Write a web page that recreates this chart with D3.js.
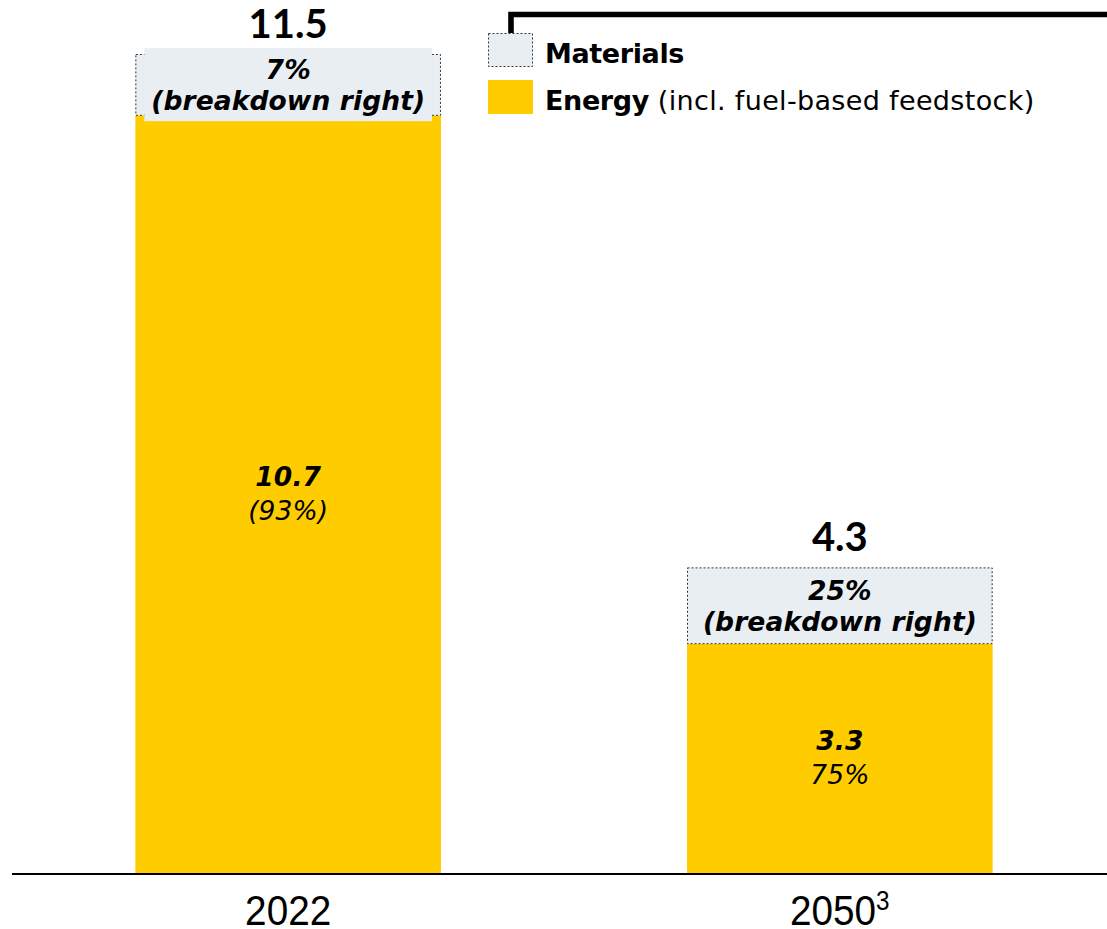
<!DOCTYPE html>
<html><head><meta charset="utf-8">
<script src="https://cdn.jsdelivr.net/npm/d3@7"></script>
<style>body{margin:0;background:#fff}svg{display:block}</style>
</head><body>
<script>
const categories = ["2022", "2050"];
const categorySup = ["", "3"];
const energy = [10.64, 3.23];
const materials = [0.86, 1.07];
const totals = ["11.5", "4.3"];
const materialsLabel = ["7%", "25%"];
const energyShare = ["(93%)", "75%"];
const energyLabel = ["10.7", "3.3"];

const W = 1107, H = 929;
const YELLOW = "#FFCC00", LIGHT = "#E9EEF3";
const svg = d3.select("body").append("svg").attr("width", W).attr("height", H);

const x = d3.scaleBand().domain(categories).range([25, 1103]).paddingInner(0.446).paddingOuter(0.2);
const y = d3.scaleLinear().domain([0, 11.5]).range([874, 54]);
const F = "'DejaVu Sans', sans-serif";
const FT = "Lato, 'DejaVu Sans', sans-serif";

// letter-spacing so that a string at a given size reaches a target width
function fitSpacing(str, weight, style, size, target) {
  const t = svg.append("text").attr("font-family", F).attr("font-weight", weight)
    .attr("font-style", style).attr("font-size", size).text(str);
  const w = t.node().getComputedTextLength();
  t.remove();
  return (target - w) / str.length;
}
const LS = 26.5;
const labelLS = fitSpacing("(breakdown right)", "bold", "italic", LS, 274);
const GS = 27;
const legendLS = fitSpacing("Materials", "bold", "normal", GS, 139);
const suffix = " (incl. fuel-based feedstock)";
const suffixLS = fitSpacing(suffix, "normal", "normal", GS, 377);

function label(sel, xx, yy, str, weight, size, ls) {
  return sel.append("text").attr("x", xx).attr("y", yy).attr("text-anchor", "middle")
    .attr("font-family", F).attr("font-weight", weight).attr("font-style", "italic")
    .attr("font-size", size).attr("letter-spacing", ls).attr("fill", "#000").text(str);
}

const g = svg.append("g");
categories.forEach((c, i) => {
  const x0 = x(c), bw = x.bandwidth(), cx = x0 + bw / 2;
  g.append("rect").attr("x", x0).attr("width", bw)
    .attr("y", y(energy[i])).attr("height", y(0) - y(energy[i])).attr("fill", YELLOW);
  const top = y(energy[i] + materials[i]);
  g.append("rect").attr("x", x0 + 0.5).attr("width", bw - 1)
    .attr("y", top + 0.5).attr("height", y(energy[i]) - top - 0.5)
    .attr("fill", LIGHT).attr("stroke", "#333").attr("stroke-width", 1).attr("stroke-dasharray", "2,2");
  const mMid = (top + y(energy[i])) / 2;
  g.append("rect").attr("x", x0 + 9).attr("width", bw - 18)
    .attr("y", mMid - 36.5).attr("height", 73).attr("fill", LIGHT);
  g.append("text").attr("x", cx).attr("y", top - 16).attr("text-anchor", "middle")
    .attr("font-family", FT).attr("font-weight", "bold").attr("font-size", 40).attr("fill", "#000").text(totals[i]);
  const sh = labelLS / 2; // compensate trailing letter-spacing for centring
  label(g, cx + sh, mMid - 6, materialsLabel[i], "bold", LS, labelLS);
  label(g, cx + sh, mMid + 25, "(breakdown right)", "bold", LS, labelLS);
  const eMid = (y(0) + y(energy[i])) / 2;
  label(g, cx + sh, eMid - 9, energyLabel[i], "bold", LS, labelLS);
  label(g, cx + sh, eMid + 25, energyShare[i], "normal", LS, labelLS);
});

// axis
const axis = svg.append("g").attr("transform", `translate(0,${y(0)})`)
  .call(d3.axisBottom(x).tickSize(0).tickPadding(0).tickFormat(() => ""));
axis.select(".domain").remove();
axis.append("line").attr("x1", 12).attr("x2", W).attr("stroke", "#000").attr("stroke-width", 2);
axis.selectAll(".tick").each(function(d, i) {
  const t = d3.select(this).append("text").attr("y", 51).attr("text-anchor", "middle")
    .attr("transform", "scale(0.9,1)")
    .attr("font-family", "'Liberation Sans', Arial, sans-serif").attr("font-size", 43).attr("fill", "#000");
  t.append("tspan").text(d);
  if (categorySup[i]) t.append("tspan").attr("font-size", 27).attr("dy", -15).text(categorySup[i]);
});

// bracket
svg.append("path").attr("d", `M511,33 V14.5 H${W}`).attr("fill", "none").attr("stroke", "#000").attr("stroke-width", 5.6);

// legend
const lg = svg.append("g");
lg.append("rect").attr("x", 488.5).attr("y", 33.5).attr("width", 44).attr("height", 33)
  .attr("fill", LIGHT).attr("stroke", "#333").attr("stroke-dasharray", "2,2");
lg.append("text").attr("x", 545).attr("y", 63).attr("font-family", F).attr("font-weight", "bold")
  .attr("font-size", GS).attr("letter-spacing", legendLS).text("Materials");
lg.append("rect").attr("x", 488).attr("y", 80).attr("width", 45).attr("height", 34).attr("fill", YELLOW);
const et = lg.append("text").attr("x", 545).attr("y", 110).attr("font-family", F).attr("font-size", GS);
et.append("tspan").attr("font-weight", "bold").attr("letter-spacing", legendLS).text("Energy");
et.append("tspan").attr("letter-spacing", suffixLS).text(suffix);
</script>
</body></html>
